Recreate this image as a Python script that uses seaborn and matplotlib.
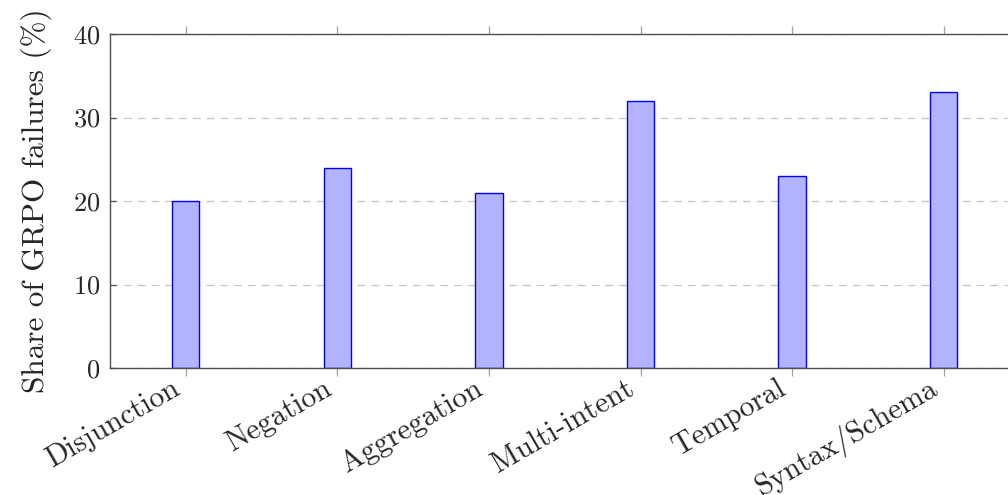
import matplotlib
matplotlib.use("Agg")
import matplotlib.pyplot as plt
import matplotlib.transforms as mtransforms
import seaborn as sns

# Failure categories and their share of GRPO failures (%)
categories = ["Disjunction", "Negation", "Aggregation", "Multi-intent", "Temporal", "Syntax/Schema"]
shares = [20, 24, 21, 32, 23, 33]
y_ticks = [0, 10, 20, 30, 40]

sns.set_style("white")
plt.rcParams["font.family"] = ["cmr10", "DejaVu Serif"]
plt.rcParams["axes.formatter.use_mathtext"] = True
plt.rcParams["mathtext.fontset"] = "cm"

fig = plt.figure(figsize=(10.08, 4.95), dpi=100)
# axes runs past the right edge of the figure, as in the reference
ax = fig.add_axes([110 / 1008, 1 - 368 / 495, 909.5 / 1008, 334 / 495])

sns.barplot(x=categories, y=shares, ax=ax, width=0.18, color="#b3b3ff",
            edgecolor="#0000ff", linewidth=1.0, saturation=1)

ax.set_xlim(-0.5, len(categories) - 0.5)
ax.set_ylim(0, 40)
ax.set_yticks(y_ticks)
ax.yaxis.grid(True, linestyle=(0, (6, 5)), color="#c4c4c4", linewidth=0.9)
ax.set_axisbelow(True)

for side in ["left", "top", "bottom", "right"]:
    ax.spines[side].set_color("#505050")
    ax.spines[side].set_linewidth(1.0)

ax.tick_params(axis="x", which="both", top=True, bottom=True, direction="out",
               length=6, color="#a0a0a0", width=0.9, pad=3)
ax.tick_params(axis="y", left=True, direction="in", length=4, color="#505050",
               width=0.9, labelsize=19, pad=7)

ax.set_xticks(range(len(categories)))
ax.set_xticklabels(categories, rotation=30, ha="right", va="center",
                   rotation_mode="anchor", fontsize=21.5)
# nudge the rotated labels like pgfplots' anchor=east
shift = mtransforms.ScaledTranslation(-8 / 100, -6 / 100, fig.dpi_scale_trans)
for lbl in ax.get_xticklabels():
    lbl.set_transform(lbl.get_transform() + shift)

ax.set_xlabel("")
ax.set_ylabel("Share of GRPO failures (%)", fontsize=22.5, labelpad=15)

fig.savefig("out.png", dpi=100)
